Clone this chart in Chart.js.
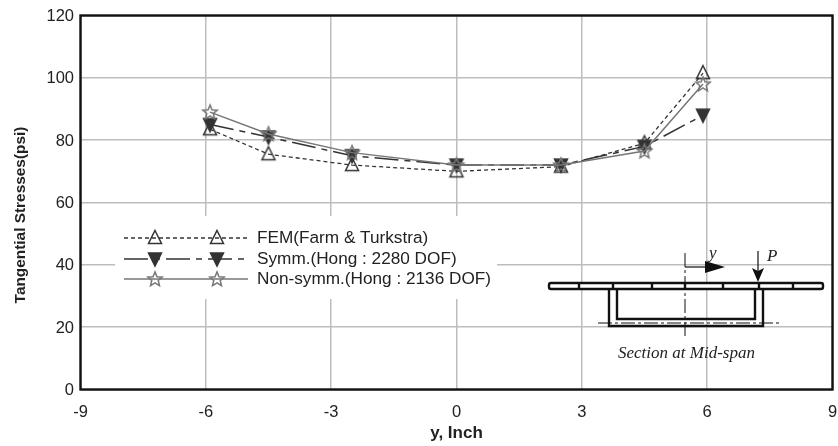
<!DOCTYPE html>
<html>
<head>
<meta charset="utf-8">
<title>Tangential stresses</title>
<script src="https://cdn.jsdelivr.net/npm/chart.js@4/dist/chart.umd.min.js"></script>
<style>
  html, body { margin: 0; padding: 0; background: #fff; overflow: hidden; width: 838px; height: 446px; }
  /* a little wider than the window: Chart.js keeps room right of the last tick label */
  #wrap { width: 842px; height: 446px; }
</style>
</head>
<body>
<div id="wrap"><canvas id="chart"></canvas></div>
<script>
const yInch = [-5.9, -4.5, -2.5, 0, 2.5, 4.5, 5.9];
const fem = [83.5, 75.5, 72, 70, 71.5, 79, 101.5];
const symm = [85, 81, 75, 72, 72, 78, 88];
const nonSymm = [89, 82, 76, 72, 72, 76.5, 98];
const seriesNames = ['FEM(Farm & Turkstra)', 'Symm.(Hong : 2280 DOF)', 'Non-symm.(Hong : 2136 DOF)'];
const xTicks = [-9, -6, -3, 0, 3, 6, 9];
const yTicks = [0, 20, 40, 60, 80, 100, 120];

const FONT = '"Liberation Sans", Arial, sans-serif';
const TEXT = '#222';
const GRID = '#bdbdbd';

function marker(shape, stroke, fill) {
  const c = document.createElement('canvas');
  c.width = 22; c.height = 22;
  const g = c.getContext('2d');
  g.strokeStyle = stroke;
  g.fillStyle = fill;
  g.lineWidth = 1.5;
  g.lineJoin = 'miter';
  g.beginPath();
  if (shape === 'up') {
    g.moveTo(11, 3.5); g.lineTo(17.5, 16.5); g.lineTo(4.5, 16.5);
  } else if (shape === 'down') {
    g.moveTo(4.5, 5); g.lineTo(17.5, 5); g.lineTo(11, 18);
  } else {
    for (let i = 0; i < 10; i++) {
      const r = i % 2 ? 3.4 : 7.6;
      const a = -Math.PI / 2 + i * Math.PI / 5;
      g.lineTo(11 + r * Math.cos(a), 11.5 + r * Math.sin(a));
    }
  }
  g.closePath();
  if (fill !== 'none') g.fill();
  g.stroke();
  return c;
}

const markers = [
  marker('up', '#333', 'none'),
  marker('down', '#333', '#333'),
  marker('star', '#777', 'none')
];
const lineStyles = [
  { color: '#333', dash: [4, 3], width: 1.3 },
  { color: '#333', dash: [24, 6, 6, 6], width: 1.5 },
  { color: '#777', dash: [], width: 1.5 }
];

function toPoints(values) {
  return values.map((v, i) => ({ x: yInch[i], y: v }));
}

// white box over the grid, then the hand made legend
const legendBox = {
  id: 'legendBox',
  beforeDatasetsDraw(chart) {
    const { ctx } = chart;
    ctx.save();
    ctx.fillStyle = '#fff';
    ctx.fillRect(115, 216, 382, 83);
    const rows = [238, 259, 279];
    rows.forEach((y, i) => {
      const s = lineStyles[i];
      ctx.beginPath();
      ctx.setLineDash(s.dash);
      ctx.strokeStyle = s.color;
      ctx.lineWidth = s.width;
      ctx.moveTo(124, y);
      ctx.lineTo(248, y);
      ctx.stroke();
      ctx.setLineDash([]);
      ctx.drawImage(markers[i], 144, y - 11);
      ctx.drawImage(markers[i], 206, y - 11);
      ctx.fillStyle = TEXT;
      ctx.font = '17.2px ' + FONT;
      ctx.textBaseline = 'middle';
      ctx.fillText(seriesNames[i], 257, y + 0.5);
    });
    ctx.restore();
  }
};

// section sketch in the lower right
const sectionSketch = {
  id: 'sectionSketch',
  afterDatasetsDraw(chart) {
    const { ctx } = chart;
    ctx.save();
    ctx.strokeStyle = '#111';
    ctx.fillStyle = '#fff';
    ctx.lineWidth = 2.4;
    // top flange
    ctx.beginPath();
    ctx.roundRect(549, 283, 274, 6, 2);
    ctx.fill();
    ctx.stroke();
    [579, 613, 652, 685, 723, 759, 793].forEach(x => {
      ctx.beginPath(); ctx.moveTo(x, 283); ctx.lineTo(x, 289); ctx.stroke();
    });
    // U section, outer and inner
    ctx.beginPath();
    ctx.moveTo(609, 289); ctx.lineTo(609, 326); ctx.lineTo(763, 326); ctx.lineTo(763, 289);
    ctx.moveTo(617, 289); ctx.lineTo(617, 319); ctx.lineTo(755, 319); ctx.lineTo(755, 289);
    ctx.stroke();
    // centre lines
    ctx.lineWidth = 1;
    ctx.setLineDash([14, 3, 3, 3]);
    ctx.beginPath();
    ctx.moveTo(685, 253); ctx.lineTo(685, 338);
    ctx.moveTo(598, 323); ctx.lineTo(779, 323);
    ctx.stroke();
    ctx.setLineDash([]);
    // y arrow
    ctx.lineWidth = 1.2;
    ctx.beginPath(); ctx.moveTo(685, 267); ctx.lineTo(708, 267); ctx.stroke();
    ctx.fillStyle = '#111';
    ctx.beginPath(); ctx.moveTo(725, 267); ctx.lineTo(705, 261); ctx.lineTo(705, 273); ctx.closePath(); ctx.fill();
    // P arrow
    ctx.beginPath(); ctx.moveTo(758, 251); ctx.lineTo(758, 272); ctx.stroke();
    ctx.beginPath(); ctx.moveTo(758, 282); ctx.lineTo(752, 268); ctx.lineTo(758, 271); ctx.lineTo(764, 268); ctx.closePath(); ctx.fill();
    // labels
    ctx.fillStyle = TEXT;
    ctx.textBaseline = 'alphabetic';
    ctx.font = 'italic 17px "Liberation Serif", "Times New Roman", serif';
    ctx.fillText('y', 709, 258);
    ctx.fillText('P', 767, 261);
    ctx.fillText('Section at Mid-span', 618, 358);
    ctx.restore();
  }
};

new Chart(document.getElementById('chart'), {
  type: 'scatter',
  data: {
    datasets: [fem, symm, nonSymm].map((values, i) => ({
      label: seriesNames[i],
      data: toPoints(values),
      showLine: true,
      order: 2 - i,
      borderColor: lineStyles[i].color,
      borderWidth: lineStyles[i].width,
      borderDash: lineStyles[i].dash,
      tension: 0,
      pointStyle: markers[i],
      pointRadius: 8
    }))
  },
  options: {
    responsive: true,
    maintainAspectRatio: false,
    animation: false,
    layout: { padding: { top: 15.5, right: 0, left: 0, bottom: 0 } },
    plugins: { legend: { display: false }, tooltip: { enabled: false } },
    scales: {
      x: {
        type: 'linear',
        min: -9,
        max: 9,
        afterBuildTicks(scale) { scale.ticks = xTicks.map(v => ({ value: v })); },
        afterFit(scale) { scale.height = 56.5; scale.paddingLeft = 0; scale.paddingRight = 0; },
        grid: { color: GRID, lineWidth: 1.5, drawTicks: false },
        border: { display: false },
        ticks: { color: TEXT, font: { family: FONT, size: 16.5 }, maxRotation: 0, padding: 13 },
        title: { display: true, text: 'y, Inch', color: TEXT, font: { family: FONT, size: 17, weight: 'bold' }, padding: { top: 0, bottom: 2 } }
      },
      y: {
        min: 0,
        max: 120,
        afterBuildTicks(scale) { scale.ticks = yTicks.map(v => ({ value: v })); },
        afterFit(scale) { scale.width = 80.5; scale.paddingTop = 0; scale.paddingBottom = 0; },
        grid: { color: GRID, lineWidth: 1.5, drawTicks: false },
        border: { display: false },
        ticks: { color: TEXT, font: { family: FONT, size: 16.5 }, padding: 6.5, labelOffset: 1 },
        title: { display: false }
      }
    }
  },
  plugins: [legendBox, sectionSketch, {
    id: 'frame',
    beforeDatasetsDraw(chart) {
      const { ctx, chartArea: a } = chart;
      ctx.save();
      ctx.strokeStyle = '#111';
      ctx.lineWidth = 2.4;
      ctx.strokeRect(a.left, a.top, a.right - a.left, a.bottom - a.top);
      // y title sits a bit below the middle of the axis
      ctx.translate(21, 215);
      ctx.rotate(-Math.PI / 2);
      ctx.fillStyle = TEXT;
      ctx.font = 'bold 15.4px ' + FONT;
      ctx.textAlign = 'center';
      ctx.textBaseline = 'middle';
      ctx.fillText('Tangential Stresses(psi)', 0, 0);
      ctx.restore();
    }
  }]
});
</script>
</body>
</html>
